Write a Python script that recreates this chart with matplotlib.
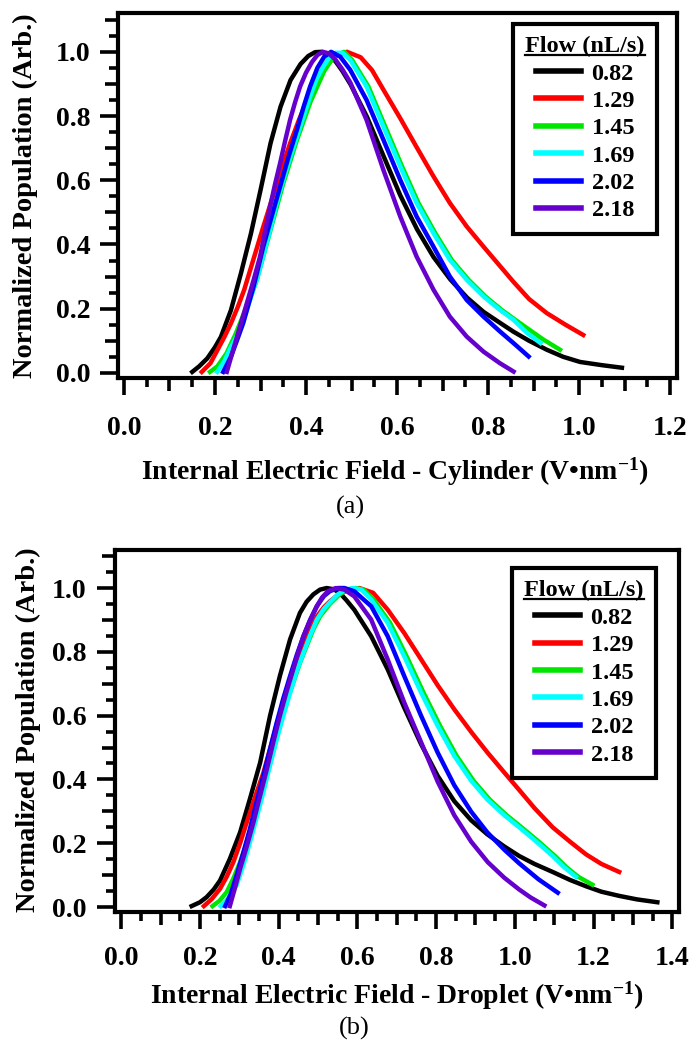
import numpy as np
import matplotlib
matplotlib.use('Agg')
import matplotlib.pyplot as plt
from matplotlib.ticker import FixedLocator, FormatStrFormatter
from matplotlib.lines import Line2D

plt.rcParams['font.family'] = ['Liberation Serif', 'DejaVu Serif']
plt.rcParams['font.weight'] = 'bold'
plt.rcParams['mathtext.fontset'] = 'custom'
plt.rcParams['mathtext.rm'] = 'Liberation Serif:bold'
plt.rcParams['mathtext.bf'] = 'Liberation Serif:bold'
plt.rcParams['mathtext.it'] = 'Liberation Serif:bold'

#%% datos
flows = ['0.82', '1.29', '1.45', '1.69', '2.02', '2.18']
colores = ['#000000', '#ff0000', '#00e600', '#00ffff', '#0000ff', '#6600cc']

# (a) cilindro
cyl_082_x = [0.15, 0.165, 0.183, 0.2, 0.213, 0.235, 0.257, 0.279, 0.300, 0.322, 0.344, 0.366, 0.388, 0.405,
             0.42, 0.435, 0.45, 0.465, 0.48, 0.498, 0.534, 0.571, 0.607, 0.644, 0.680, 0.717, 0.754, 0.790,
             0.827, 0.856, 0.89, 0.929, 0.965, 1.002, 1.05, 1.094]
cyl_082_y = [0.003, 0.02, 0.045, 0.08, 0.112, 0.195, 0.31, 0.434, 0.569, 0.715, 0.829, 0.912, 0.962, 0.987,
             0.999, 1.0, 0.99, 0.97, 0.94, 0.898, 0.797, 0.673, 0.553, 0.447, 0.361, 0.291, 0.234, 0.19,
             0.155, 0.128, 0.1, 0.072, 0.05, 0.034, 0.024, 0.016]
cyl_129_x = [0.171, 0.19, 0.205, 0.22, 0.235, 0.25, 0.264, 0.286, 0.305, 0.325, 0.345, 0.365, 0.385, 0.405,
             0.425, 0.445, 0.465, 0.49, 0.52, 0.545, 0.570, 0.607, 0.643, 0.680, 0.716, 0.753, 0.79, 0.826,
             0.856, 0.89, 0.929, 0.97, 1.009]
cyl_129_y = [0.003, 0.03, 0.07, 0.11, 0.154, 0.205, 0.258, 0.361, 0.45, 0.54, 0.63, 0.715, 0.79, 0.857,
             0.913, 0.958, 0.988, 1.0, 0.983, 0.943, 0.882, 0.793, 0.703, 0.612, 0.529, 0.456, 0.393, 0.333,
             0.283, 0.23, 0.186, 0.15, 0.118]
cyl_145_x = [0.189, 0.205, 0.225, 0.245, 0.265, 0.292, 0.321, 0.35, 0.38, 0.41, 0.44, 0.455, 0.47, 0.484,
             0.501, 0.537, 0.574, 0.611, 0.647, 0.684, 0.72, 0.757, 0.794, 0.83, 0.86, 0.89, 0.92, 0.958]
cyl_145_y = [0.003, 0.02, 0.06, 0.12, 0.19, 0.29, 0.44, 0.59, 0.725, 0.845, 0.94, 0.972, 0.992, 1.0,
             0.975, 0.892, 0.767, 0.643, 0.529, 0.435, 0.352, 0.29, 0.238, 0.196, 0.165, 0.135, 0.105, 0.072]
cyl_169_x = [0.205, 0.22, 0.235, 0.255, 0.273, 0.292, 0.307, 0.321, 0.335, 0.35, 0.365, 0.38, 0.395, 0.409,
             0.423, 0.438, 0.45, 0.465, 0.48, 0.497, 0.533, 0.57, 0.607, 0.643, 0.68, 0.716, 0.753, 0.79,
             0.826, 0.856, 0.885, 0.915]
cyl_169_y = [0.003, 0.035, 0.08, 0.134, 0.21, 0.29, 0.37, 0.445, 0.525, 0.601, 0.67, 0.736, 0.8, 0.861,
             0.915, 0.954, 0.98, 0.997, 0.997, 0.975, 0.892, 0.767, 0.643, 0.529, 0.435, 0.352, 0.29, 0.238,
             0.196, 0.165, 0.125, 0.093]
cyl_202_x = [0.218, 0.235, 0.248, 0.262, 0.285, 0.306, 0.325, 0.343, 0.362, 0.38, 0.395, 0.409, 0.425, 0.44,
             0.455, 0.475, 0.497, 0.533, 0.57, 0.607, 0.643, 0.68, 0.716, 0.753, 0.79, 0.826, 0.858, 0.889]
cyl_202_y = [0.003, 0.05, 0.1, 0.155, 0.27, 0.393, 0.49, 0.58, 0.675, 0.757, 0.83, 0.892, 0.95, 0.985,
             1.0, 0.985, 0.944, 0.85, 0.726, 0.601, 0.487, 0.393, 0.3, 0.227, 0.175, 0.129, 0.09, 0.051]
cyl_218_x = [0.226, 0.24, 0.255, 0.27, 0.285, 0.299, 0.31, 0.321, 0.332, 0.343, 0.354, 0.365, 0.376, 0.387,
             0.4, 0.413, 0.425, 0.437, 0.45, 0.465, 0.48, 0.497, 0.533, 0.57, 0.607, 0.643, 0.68, 0.716,
             0.753, 0.79, 0.826, 0.856]
cyl_218_y = [0.003, 0.072, 0.145, 0.217, 0.29, 0.362, 0.44, 0.518, 0.588, 0.653, 0.722, 0.788, 0.843, 0.892,
             0.935, 0.968, 0.99, 1.0, 0.995, 0.975, 0.945, 0.905, 0.788, 0.632, 0.487, 0.362, 0.259, 0.175,
             0.113, 0.066, 0.03, 0.004]

# (b) gota
drop_082_x = [0.179, 0.2, 0.217, 0.235, 0.251, 0.276, 0.302, 0.327, 0.353, 0.378, 0.403, 0.429, 0.454, 0.471,
              0.488, 0.505, 0.522, 0.54, 0.555, 0.572, 0.592, 0.635, 0.677, 0.719, 0.762, 0.804, 0.846, 0.889,
              0.93, 0.973, 1.011, 1.05, 1.096, 1.14, 1.181, 1.22, 1.265, 1.31, 1.362]
drop_082_y = [0.003, 0.015, 0.031, 0.055, 0.083, 0.151, 0.234, 0.339, 0.453, 0.599, 0.724, 0.839, 0.922, 0.957,
              0.98, 0.995, 1.0, 0.996, 0.985, 0.962, 0.932, 0.849, 0.745, 0.625, 0.51, 0.411, 0.332, 0.272,
              0.228, 0.19, 0.16, 0.135, 0.11, 0.085, 0.065, 0.048, 0.035, 0.024, 0.015]
drop_129_x = [0.21, 0.23, 0.251, 0.268, 0.285, 0.302, 0.319, 0.34, 0.361, 0.378, 0.395, 0.412, 0.429, 0.446,
              0.463, 0.48, 0.497, 0.515, 0.53, 0.55, 0.575, 0.605, 0.64, 0.677, 0.719, 0.762, 0.804, 0.846,
              0.889, 0.93, 0.973, 1.011, 1.05, 1.096, 1.14, 1.181, 1.22, 1.265]
drop_129_y = [0.003, 0.025, 0.057, 0.095, 0.141, 0.2, 0.266, 0.345, 0.42, 0.495, 0.57, 0.645, 0.714, 0.775,
              0.828, 0.875, 0.911, 0.94, 0.958, 0.978, 0.993, 1.0, 0.985, 0.932, 0.859, 0.776, 0.695, 0.62,
              0.549, 0.485, 0.422, 0.367, 0.31, 0.25, 0.205, 0.165, 0.135, 0.11]
drop_145_x = [0.232, 0.25, 0.268, 0.285, 0.302, 0.319, 0.336, 0.353, 0.37, 0.387, 0.403, 0.42, 0.437, 0.454,
              0.471, 0.488, 0.505, 0.53, 0.555, 0.575, 0.596, 0.616, 0.641, 0.683, 0.725, 0.768, 0.81, 0.852,
              0.895, 0.936, 0.979, 1.017, 1.056, 1.102, 1.131, 1.161, 1.197]
drop_145_y = [0.003, 0.02, 0.047, 0.09, 0.141, 0.2, 0.266, 0.335, 0.411, 0.49, 0.568, 0.64, 0.703, 0.765,
              0.818, 0.87, 0.911, 0.95, 0.98, 0.995, 1.0, 0.995, 0.964, 0.891, 0.786, 0.672, 0.568, 0.474,
              0.396, 0.337, 0.288, 0.25, 0.21, 0.16, 0.125, 0.095, 0.07]
drop_169_x = [0.253, 0.27, 0.293, 0.31, 0.327, 0.344, 0.361, 0.378, 0.395, 0.412, 0.429, 0.446, 0.463, 0.48,
              0.497, 0.515, 0.53, 0.55, 0.57, 0.59, 0.61, 0.635, 0.677, 0.719, 0.762, 0.804, 0.846, 0.889,
              0.93, 0.973, 1.011, 1.05, 1.096, 1.125, 1.155]
drop_169_y = [0.003, 0.025, 0.068, 0.13, 0.203, 0.28, 0.359, 0.445, 0.526, 0.6, 0.672, 0.74, 0.797, 0.852,
              0.901, 0.935, 0.955, 0.98, 0.995, 1.0, 0.995, 0.964, 0.891, 0.786, 0.672, 0.568, 0.474, 0.396,
              0.337, 0.288, 0.25, 0.21, 0.16, 0.125, 0.095]
drop_202_x = [0.264, 0.278, 0.293, 0.31, 0.327, 0.344, 0.361, 0.378, 0.395, 0.412, 0.429, 0.446, 0.463, 0.48,
              0.497, 0.515, 0.53, 0.55, 0.567, 0.592, 0.635, 0.677, 0.719, 0.762, 0.804, 0.846, 0.889, 0.93,
              0.973, 1.011, 1.06, 1.109]
drop_202_y = [0.003, 0.04, 0.099, 0.17, 0.245, 0.33, 0.411, 0.495, 0.578, 0.655, 0.724, 0.79, 0.849, 0.9,
              0.943, 0.975, 0.99, 1.0, 1.0, 0.99, 0.943, 0.849, 0.724, 0.599, 0.484, 0.382, 0.299, 0.234,
              0.18, 0.137, 0.087, 0.045]
drop_218_x = [0.276, 0.289, 0.302, 0.319, 0.336, 0.353, 0.37, 0.386, 0.403, 0.42, 0.437, 0.45, 0.463, 0.48,
              0.497, 0.51, 0.525, 0.545, 0.567, 0.592, 0.635, 0.677, 0.719, 0.762, 0.804, 0.846, 0.889, 0.931,
              0.973, 1.011, 1.04, 1.075]
drop_218_y = [0.003, 0.06, 0.12, 0.19, 0.266, 0.35, 0.432, 0.515, 0.599, 0.675, 0.745, 0.8, 0.849, 0.9,
              0.943, 0.97, 0.99, 1.0, 0.995, 0.974, 0.901, 0.776, 0.641, 0.516, 0.393, 0.288, 0.205, 0.141,
              0.092, 0.055, 0.03, 0.005]

cyl = [(cyl_082_x, cyl_082_y), (cyl_129_x, cyl_129_y), (cyl_145_x, cyl_145_y),
       (cyl_169_x, cyl_169_y), (cyl_202_x, cyl_202_y), (cyl_218_x, cyl_218_y)]
drop = [(drop_082_x, drop_082_y), (drop_129_x, drop_129_y), (drop_145_x, drop_145_y),
        (drop_169_x, drop_169_y), (drop_202_x, drop_202_y), (drop_218_x, drop_218_y)]

#%% figura
fig = plt.figure(figsize=(6.89, 10.55), dpi=100)
ax1 = fig.add_axes([0.1713, 0.6417, 0.8113, 0.346])
ax2 = fig.add_axes([0.1662, 0.1355, 0.8193, 0.3431])


def ejes(ax, xmax_tick, xlim, ylim, xpad):
    ax.set_xlim(*xlim)
    ax.set_ylim(*ylim)
    for s in ax.spines.values():
        s.set_linewidth(3)
    ax.tick_params(which='both', direction='out', width=2.6, top=False, right=False)
    ax.tick_params(axis='x', which='major', length=12, pad=xpad, labelsize=20)
    ax.tick_params(axis='y', which='major', length=13, pad=7, labelsize=20)
    ax.tick_params(which='minor', length=6.5)
    xmaj = np.round(np.arange(0, xmax_tick + 0.01, 0.2), 2)
    xmin = [v for v in np.round(np.arange(0.05, xmax_tick, 0.05), 2) if not np.isclose(v % 0.2, 0) and not np.isclose(v % 0.2, 0.2)]
    ymaj = np.round(np.arange(0, 1.01, 0.2), 2)
    ymin = [v for v in np.round(np.arange(0.05, 1.11, 0.05), 2) if not np.isclose(v % 0.2, 0) and not np.isclose(v % 0.2, 0.2)]
    ax.xaxis.set_major_locator(FixedLocator(xmaj))
    ax.xaxis.set_minor_locator(FixedLocator(xmin))
    ax.yaxis.set_major_locator(FixedLocator(ymaj))
    ax.yaxis.set_minor_locator(FixedLocator(ymin))
    ax.xaxis.set_major_formatter(FormatStrFormatter('%.1f'))
    ax.yaxis.set_major_formatter(FormatStrFormatter('%.1f'))
    # ticks intermedios (multiplos de 0.1) un poco mas largos
    for axis, locs in ((ax.xaxis, xmin), (ax.yaxis, ymin)):
        ticks = axis.get_minor_ticks(len(locs))
        for t, v in zip(ticks, locs):
            if np.isclose(round(v * 10) / 10, v):
                t.tick1line.set_markersize(9.5)


def curvas(ax, datos, xy_leg):
    for (x, y), c, f in zip(datos, colores, flows):
        ax.plot(x, y, color=c, lw=3.2, label=f, solid_joinstyle='round')
    leg = ax.legend(loc='upper right', bbox_to_anchor=xy_leg, borderaxespad=0, fancybox=False,
                    edgecolor='black', framealpha=1, handlelength=1.85, handletextpad=0.45,
                    labelspacing=0.22, borderpad=0.5, title='Flow (nL/s)',
                    prop=dict(size=17.5, weight='bold'),
                    title_fontproperties=dict(size=17.5, weight='bold'))
    leg.get_frame().set_linewidth(3)
    for l in leg.get_lines():
        l.set_linewidth(4)
    return leg


ejes(ax1, 1.2, (-0.013, 1.215), (-0.016, 1.121), 15)
ejes(ax2, 1.4, (-0.017, 1.417), (-0.0157, 1.119), 12.5)
leg1 = curvas(ax1, cyl, (0.964, 0.970))
leg2 = curvas(ax2, drop, (0.959, 0.950))

ax1.set_xlabel(r'Internal Electric Field - Cylinder (V•nm$^{-1}$)', fontsize=20, fontweight='bold', va='center')
ax1.xaxis.set_label_coords(0.4955, -0.2575)
ax1.set_ylabel('Normalized Population (Arb.)', fontsize=20.5, fontweight='bold', va='center')
ax1.yaxis.set_label_coords(-0.166, 0.5)
ax2.set_xlabel(r'Internal Electric Field - Droplet (V•nm$^{-1}$)', fontsize=20, fontweight='bold', va='center')
ax2.xaxis.set_label_coords(0.4997, -0.232)
ax2.set_ylabel('Normalized Population (Arb.)', fontsize=20.5, fontweight='bold', va='center')
ax2.yaxis.set_label_coords(-0.153, 0.504)

fig.text(350 / 689, 1 - 507 / 1055, '(a)', fontsize=19, fontweight='normal', ha='center', va='center')
fig.text(354 / 689, 1 - 1028 / 1055, '(b)', fontsize=19, fontweight='normal', ha='center', va='center')

# subrayado del titulo de la leyenda
fig.canvas.draw()
r = fig.canvas.get_renderer()
for leg in (leg1, leg2):
    bb = leg.get_title().get_window_extent(r)
    (x0, y0), (x1, _) = fig.transFigure.inverted().transform([[bb.x0, bb.y0 + 0.12 * bb.height], [bb.x1, bb.y1]])
    fig.add_artist(Line2D([x0, x1], [y0, y0], transform=fig.transFigure, color='black', lw=1.6))

fig.savefig('out.png', dpi=100)
